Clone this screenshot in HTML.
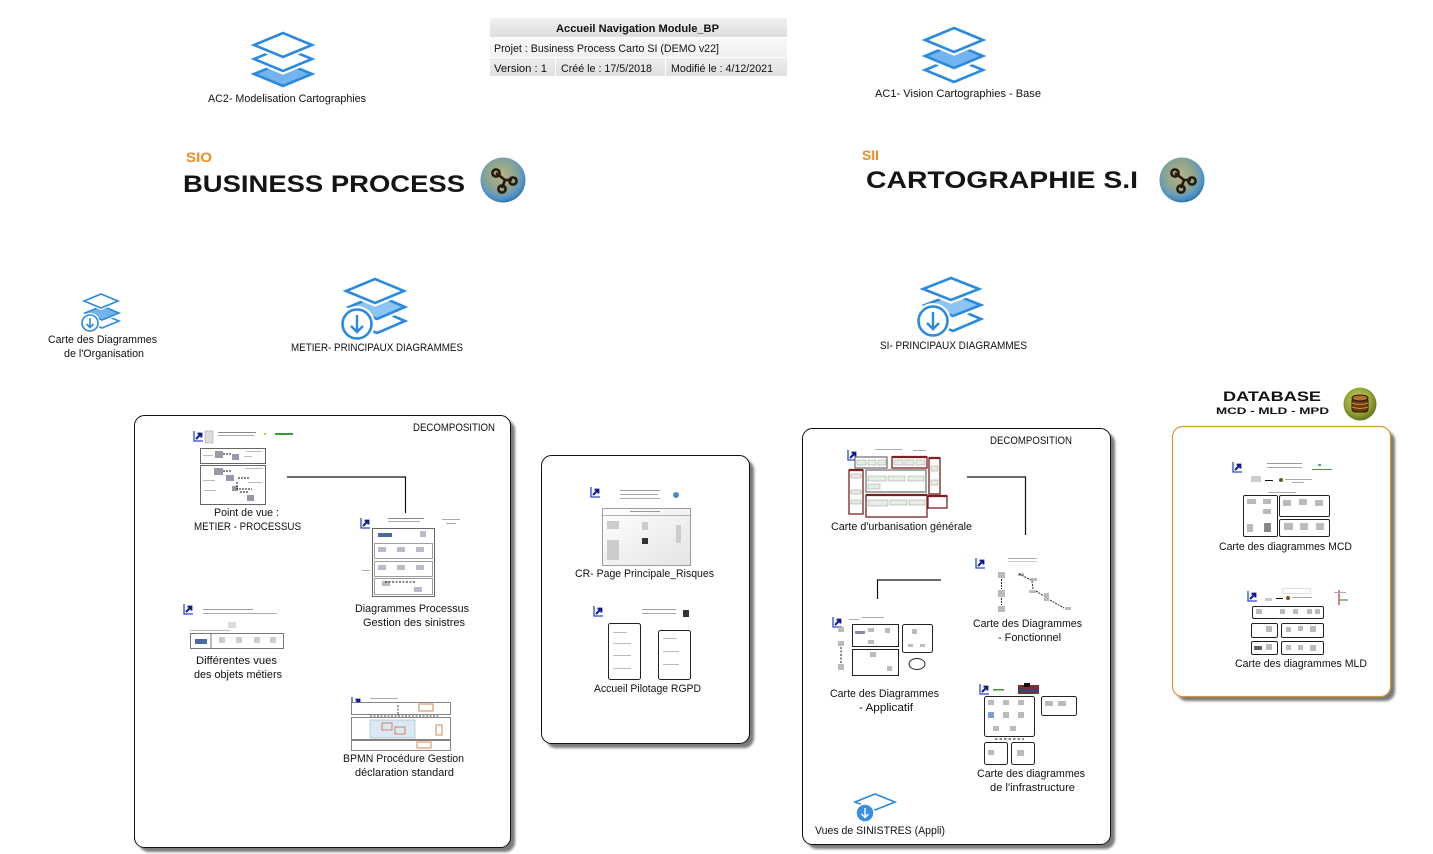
<!DOCTYPE html>
<html><head><meta charset="utf-8">
<style>
html,body{margin:0;padding:0;background:#fff;}
svg{display:block;}
text{font-family:"Liberation Sans",Arial,sans-serif;fill:#111;}
</style></head><body>
<svg width="1433" height="854" viewBox="0 0 1433 854" xmlns="http://www.w3.org/2000/svg">
<defs>
 <linearGradient id="hdr" x1="0" y1="0" x2="0" y2="1"><stop offset="0" stop-color="#f1f1f1"/><stop offset="1" stop-color="#dedede"/></linearGradient>
 <linearGradient id="hdr2" x1="0" y1="0" x2="0" y2="1"><stop offset="0" stop-color="#fafafa"/><stop offset="1" stop-color="#f0f0f0"/></linearGradient>
 <linearGradient id="hdr3" x1="0" y1="0" x2="0" y2="1"><stop offset="0" stop-color="#ececec"/><stop offset="1" stop-color="#e0e0e0"/></linearGradient>
 <radialGradient id="glob" cx="0.45" cy="0.4" r="0.62">
  <stop offset="0" stop-color="#b8b488"/><stop offset="0.55" stop-color="#88a490"/><stop offset="0.72" stop-color="#6a9cb8"/><stop offset="0.85" stop-color="#4a90c8"/><stop offset="1" stop-color="#2e6e9e"/>
 </radialGradient>
 <radialGradient id="dbg" cx="0.45" cy="0.4" r="0.62">
  <stop offset="0" stop-color="#c8cc70"/><stop offset="0.6" stop-color="#98a838"/><stop offset="1" stop-color="#5e7018"/>
 </radialGradient>
 <linearGradient id="thg" x1="0" y1="0" x2="1" y2="1"><stop offset="0" stop-color="#ffffff"/><stop offset="1" stop-color="#e4e4e4"/></linearGradient>
 <filter id="blur" x="-5%" y="-5%" width="110%" height="110%"><feGaussianBlur stdDeviation="1.4"/></filter>
 <symbol id="sc" viewBox="0 0 10 11"><path d="M1 0 V10 H10" stroke="#2a48d8" stroke-width="1.3" fill="none"/><path d="M3 8 L8 3 M4.5 2.6 H8.4 V6.5" stroke="#0c1c90" stroke-width="2" fill="none"/></symbol>
 <g id="glyph">
  <path d="M-7 -7 L2 0 L9 0 M2 0 L-1 8" stroke="#2a1a08" stroke-width="2.6" fill="none"/>
  <circle cx="-7" cy="-7" r="3.6" fill="none" stroke="#2a1a08" stroke-width="2.6"/>
  <circle cx="10" cy="1" r="3.6" fill="none" stroke="#2a1a08" stroke-width="2.6"/>
  <circle cx="-1" cy="9" r="3.6" fill="none" stroke="#2a1a08" stroke-width="2.6"/>
 </g>
</defs>

<!-- HEADER TABLE -->
<rect x="490" y="18" width="297" height="19" fill="url(#hdr)"/>
<rect x="490" y="38" width="297" height="19" fill="url(#hdr2)"/>
<rect x="490" y="58" width="65" height="18" fill="url(#hdr3)"/>
<rect x="556" y="58" width="109" height="18" fill="url(#hdr3)"/>
<rect x="666" y="58" width="121" height="18" fill="url(#hdr3)"/>
<text x="556" y="32" font-size="11" font-weight="bold" textLength="163" lengthAdjust="spacingAndGlyphs">Accueil Navigation Module_BP</text>
<text x="494" y="52" font-size="11" textLength="225" lengthAdjust="spacingAndGlyphs">Projet : Business Process Carto SI (DEMO v22]</text>
<text x="494" y="72" font-size="11" textLength="53" lengthAdjust="spacingAndGlyphs">Version : 1</text>
<text x="561" y="72" font-size="11" textLength="91" lengthAdjust="spacingAndGlyphs">Créé le : 17/5/2018</text>
<text x="671" y="72" font-size="11" textLength="102" lengthAdjust="spacingAndGlyphs">Modifié le : 4/12/2021</text>

<!-- AC2 ICON -->
<g stroke-linejoin="miter">
 <path d="M283 62 L312 74 L283 86 L254 74 Z" fill="#74b4ee" stroke="#2a8ae0" stroke-width="2.6"/>
 <path d="M283 47 L312 59 L283 71 L254 59 Z" fill="#fff" stroke="#fff" stroke-width="7"/>
 <path d="M283 47 L312 59 L283 71 L254 59 Z" fill="#fff" stroke="#2a8ae0" stroke-width="2.6"/>
 <path d="M283 33 L312 45 L283 57 L254 45 Z" fill="#fff" stroke="#fff" stroke-width="7"/>
 <path d="M283 33 L312 45 L283 57 L254 45 Z" fill="#fff" stroke="#2a8ae0" stroke-width="2.6"/>
</g>
<text x="208" y="102" font-size="11" textLength="158" lengthAdjust="spacingAndGlyphs">AC2- Modelisation Cartographies</text>

<!-- AC1 ICON -->
<g>
 <path d="M954 58 L983 70 L954 82 L925 70 Z" fill="#fff" stroke="#2a8ae0" stroke-width="2.6"/>
 <path d="M954 44 L983 56 L954 68 L925 56 Z" fill="#74b4ee" stroke="#fff" stroke-width="7"/>
 <path d="M954 44 L983 56 L954 68 L925 56 Z" fill="#74b4ee" stroke="#2a8ae0" stroke-width="2.6"/>
 <path d="M954 28 L983 40 L954 52 L925 40 Z" fill="#fff" stroke="#fff" stroke-width="7"/>
 <path d="M954 28 L983 40 L954 52 L925 40 Z" fill="#fff" stroke="#2a8ae0" stroke-width="2.6"/>
</g>
<text x="875" y="97" font-size="11" textLength="166" lengthAdjust="spacingAndGlyphs">AC1- Vision Cartographies  - Base</text>

<!-- TITLES -->
<text x="186" y="162" font-size="14" font-weight="bold" style="fill:#f08a24" textLength="26" lengthAdjust="spacingAndGlyphs">SIO</text>
<text x="183" y="192" font-size="24" font-weight="bold" textLength="282" lengthAdjust="spacingAndGlyphs" style="fill:#141414">BUSINESS PROCESS</text>
<circle cx="503" cy="180" r="22.5" fill="url(#glob)"/>
<use href="#glyph" x="503" y="180"/>

<text x="862" y="160" font-size="14" font-weight="bold" style="fill:#f08a24" textLength="17" lengthAdjust="spacingAndGlyphs">SII</text>
<text x="866" y="188" font-size="24" font-weight="bold" textLength="272" lengthAdjust="spacingAndGlyphs" style="fill:#141414">CARTOGRAPHIE S.I</text>
<circle cx="1182" cy="180" r="22.5" fill="url(#glob)"/>
<use href="#glyph" x="1182" y="180"/>

<!-- CARTE ORG ICON -->
<g>
 <path d="M102 314 L119 321 L102 328 L85 321 Z" fill="#fff" stroke="#2a8ae0" stroke-width="1.6"/>
 <path d="M102 306 L119 313 L102 320 L85 313 Z" fill="#74b4ee" stroke="#fff" stroke-width="4"/>
 <path d="M102 306 L119 313 L102 320 L85 313 Z" fill="#74b4ee" stroke="#2a8ae0" stroke-width="1.6"/>
 <path d="M101 294 L118 301 L101 308 L84 301 Z" fill="#fff" stroke="#fff" stroke-width="4"/>
 <path d="M101 294 L118 301 L101 308 L84 301 Z" fill="#fff" stroke="#2a8ae0" stroke-width="1.6"/>
 <circle cx="90" cy="323" r="8" fill="#fff" stroke="#fff" stroke-width="4"/>
 <circle cx="90" cy="323" r="8" fill="#fff" stroke="#2a8ae0" stroke-width="1.6"/>
 <path d="M90 318 V327 M86.5 324 L90 327.5 L93.5 324" fill="none" stroke="#2a8ae0" stroke-width="1.6"/>
</g>
<text x="48" y="343" font-size="11" textLength="109" lengthAdjust="spacingAndGlyphs">Carte des Diagrammes</text>
<text x="64" y="357" font-size="11" textLength="80" lengthAdjust="spacingAndGlyphs">de l'Organisation</text>

<!-- METIER ICON -->
<g>
 <path d="M377 309 L405 321 L377 333 L349 321 Z" fill="#fff" stroke="#2a8ae0" stroke-width="2.6"/>
 <path d="M377 295 L405 307 L377 319 L349 307 Z" fill="#8cc4f2" stroke="#fff" stroke-width="7"/>
 <path d="M377 295 L405 307 L377 319 L349 307 Z" fill="#8cc4f2" stroke="#2a8ae0" stroke-width="2.6"/>
 <path d="M375 279 L404 291 L375 303 L346 291 Z" fill="#fff" stroke="#fff" stroke-width="7"/>
 <path d="M375 279 L404 291 L375 303 L346 291 Z" fill="#fff" stroke="#2a8ae0" stroke-width="2.6"/>
 <circle cx="357" cy="324" r="14.5" fill="#fff" stroke="#fff" stroke-width="7"/>
 <circle cx="357" cy="324" r="14.5" fill="#fff" stroke="#2a8ae0" stroke-width="2.6"/>
 <path d="M357 315 V332 M351 326 L357 332 L363 326" fill="none" stroke="#2a8ae0" stroke-width="2.4"/>
</g>
<text x="291" y="351" font-size="11" textLength="172" lengthAdjust="spacingAndGlyphs">METIER- PRINCIPAUX DIAGRAMMES</text>

<!-- SI ICON -->
<g>
 <path d="M953 307 L981 319 L953 331 L925 319 Z" fill="#fff" stroke="#2a8ae0" stroke-width="2.6"/>
 <path d="M953 294 L981 305 L953 316 L925 305 Z" fill="#8cc4f2" stroke="#fff" stroke-width="7"/>
 <path d="M953 294 L981 305 L953 316 L925 305 Z" fill="#8cc4f2" stroke="#2a8ae0" stroke-width="2.6"/>
 <path d="M951 278 L979 289 L951 300 L923 289 Z" fill="#fff" stroke="#fff" stroke-width="7"/>
 <path d="M951 278 L979 289 L951 300 L923 289 Z" fill="#fff" stroke="#2a8ae0" stroke-width="2.6"/>
 <circle cx="933" cy="321" r="14.5" fill="#fff" stroke="#fff" stroke-width="7"/>
 <circle cx="933" cy="321" r="14.5" fill="#fff" stroke="#2a8ae0" stroke-width="2.6"/>
 <path d="M933 312 V329 M927 323 L933 329 L939 323" fill="none" stroke="#2a8ae0" stroke-width="2.4"/>
</g>
<text x="880" y="349" font-size="11" textLength="147" lengthAdjust="spacingAndGlyphs">SI- PRINCIPAUX DIAGRAMMES</text>

<!-- DATABASE TITLE -->
<text x="1223" y="401" font-size="14" font-weight="bold" textLength="98" lengthAdjust="spacingAndGlyphs">DATABASE</text>
<text x="1216" y="414" font-size="9" font-weight="bold" textLength="113" lengthAdjust="spacingAndGlyphs">MCD - MLD - MPD</text>
<circle cx="1360" cy="404" r="16.5" fill="url(#dbg)"/>
<g fill="#6a3a10" stroke="#2a1206" stroke-width="1">
 <rect x="1352" y="398" width="16" height="14" rx="3"/>
 <ellipse cx="1360" cy="398" rx="8" ry="3" fill="#b07030"/>
 <path d="M1352 403 Q1360 406 1368 403 M1352 407 Q1360 410 1368 407" fill="none" stroke="#d09040"/>
</g>

<!-- BOX SHADOWS -->
<g fill="#7a7a7a" filter="url(#blur)">
 <rect x="139" y="420" width="376" height="432" rx="10"/>
 <rect x="546" y="460" width="208" height="288" rx="10"/>
 <rect x="807" y="433" width="308" height="416" rx="10"/>
 <rect x="1177" y="431" width="218" height="270" rx="10"/>
</g>
<rect x="134.5" y="415.5" width="376" height="432" rx="10" fill="#fff" stroke="#111" stroke-width="1"/>
<rect x="541.5" y="455.5" width="208" height="288" rx="10" fill="#fff" stroke="#111" stroke-width="1"/>
<rect x="802.5" y="428.5" width="308" height="416" rx="10" fill="#fff" stroke="#111" stroke-width="1"/>
<rect x="1172.5" y="426.5" width="218" height="270" rx="10" fill="#fff" stroke="#d8963c" stroke-width="1.2"/>

<text x="413" y="431" font-size="11" textLength="82" lengthAdjust="spacingAndGlyphs">DECOMPOSITION</text>
<text x="990" y="444" font-size="11" textLength="82" lengthAdjust="spacingAndGlyphs">DECOMPOSITION</text>

<!-- CONNECTOR LINES -->
<g stroke="#111" stroke-width="1.2" fill="none">
 <path d="M287 477 H405.5 V513"/>
 <path d="M967 477 H1025.5 V535"/>
 <path d="M941 580 H877.5 V599"/>
</g>

<!-- LEFT BOX THUMBNAILS -->
<use href="#sc" x="193" y="431" width="10" height="11"/>
<rect x="205" y="431" width="8" height="12" fill="#ddd" stroke="#999" stroke-width="0.5"/>
<rect x="218" y="432" width="38" height="1" fill="#888"/><rect x="218" y="435" width="36" height="1" fill="#aaa"/>
<rect x="264" y="433" width="2" height="2" fill="#cc0"/>
<rect x="275" y="433" width="18" height="2" fill="#3a9a3a"/>
<rect x="200.5" y="448.5" width="65" height="15" fill="#fff" stroke="#666" stroke-width="1"/>
<rect x="200.5" y="465.5" width="65" height="39" fill="#fff" stroke="#666" stroke-width="1"/>
<g fill="#99a">
 <rect x="215" y="451" width="8" height="7"/><rect x="232" y="454" width="7" height="6"/>
 <rect x="214" y="468" width="9" height="7"/><rect x="226" y="475" width="8" height="6"/><rect x="232" y="486" width="6" height="5"/><rect x="247" y="495" width="7" height="6"/>
</g>
<g stroke="#111" stroke-width="1" stroke-dasharray="2,1" fill="none">
 <path d="M223 454 H232"/><path d="M223 471 H232"/><path d="M238 478 H250 M237 482 V489 H252"/><path d="M240 492 H248"/>
</g>
<g fill="#bbb">
 <rect x="203" y="455" width="10" height="1"/><rect x="246" y="451" width="16" height="1"/><rect x="244" y="456" width="8" height="1"/>
 <rect x="203" y="480" width="12" height="1"/><rect x="204" y="490" width="12" height="1"/><rect x="245" y="468" width="18" height="1"/><rect x="248" y="482" width="14" height="1"/>
</g>
<text x="214" y="516" font-size="11" textLength="65" lengthAdjust="spacingAndGlyphs">Point de vue :</text>
<text x="194" y="530" font-size="11" textLength="107" lengthAdjust="spacingAndGlyphs">METIER - PROCESSUS</text>

<use href="#sc" x="360" y="518" width="10" height="11"/>
<rect x="388" y="518" width="36" height="1" fill="#888"/><rect x="388" y="521" width="32" height="1" fill="#aaa"/>
<rect x="442" y="519" width="18" height="1" fill="#aaa"/><rect x="446" y="523" width="10" height="1" fill="#aaa"/>
<rect x="372.5" y="528.5" width="62" height="68" fill="#fff" stroke="#666" stroke-width="1"/>
<rect x="378" y="533" width="14" height="4" fill="#4a6aa0"/>
<rect x="374.5" y="543.5" width="58" height="15" fill="#fff" stroke="#888" stroke-width="0.8"/>
<rect x="374.5" y="561.5" width="58" height="15" fill="#fff" stroke="#888" stroke-width="0.8"/>
<rect x="374.5" y="578.5" width="58" height="16" fill="#fff" stroke="#888" stroke-width="0.8"/>
<g fill="#bbc">
 <rect x="378" y="547" width="8" height="5"/><rect x="397" y="547" width="8" height="5"/><rect x="416" y="547" width="8" height="5"/>
 <rect x="378" y="565" width="8" height="5"/><rect x="397" y="565" width="8" height="5"/><rect x="416" y="565" width="8" height="5"/>
 <rect x="382" y="581" width="8" height="5"/><rect x="414" y="587" width="8" height="5"/><rect x="420" y="531" width="6" height="6"/>
</g>
<path d="M385 582 H416" stroke="#111" stroke-dasharray="2,1.5" stroke-width="1"/>
<rect x="362" y="570" width="8" height="1" fill="#aaa"/>
<text x="355" y="612" font-size="11" textLength="114" lengthAdjust="spacingAndGlyphs">Diagrammes Processus</text>
<text x="363" y="626" font-size="11" textLength="102" lengthAdjust="spacingAndGlyphs">Gestion des sinistres</text>

<use href="#sc" x="183" y="604" width="10" height="11"/>
<rect x="203" y="609" width="50" height="1" fill="#999"/><rect x="203" y="613" width="74" height="1" fill="#aaa"/>
<rect x="228" y="622" width="8" height="6" fill="#ddd"/>
<rect x="190" y="630" width="40" height="1" fill="#bbb"/>
<rect x="190.5" y="633.5" width="93" height="15" fill="#fff" stroke="#777" stroke-width="1"/>
<path d="M211 634 V648" stroke="#777"/>
<rect x="195" y="639" width="12" height="5" fill="#4a6aa0"/>
<g fill="#ccc"><rect x="219" y="637" width="6" height="6"/><rect x="236" y="637" width="6" height="6"/><rect x="254" y="637" width="6" height="6"/><rect x="270" y="637" width="6" height="6"/></g>
<text x="196" y="664" font-size="11" textLength="81" lengthAdjust="spacingAndGlyphs">Différentes vues</text>
<text x="194" y="678" font-size="11" textLength="88" lengthAdjust="spacingAndGlyphs">des objets métiers</text>

<use href="#sc" x="351" y="697" width="10" height="11"/>
<rect x="370" y="698" width="28" height="1" fill="#aaa"/>
<rect x="351.5" y="702.5" width="99" height="12" fill="#fff" stroke="#666" stroke-width="0.8"/>
<rect x="351.5" y="717.5" width="99" height="22" fill="#fff" stroke="#666" stroke-width="0.8"/>
<rect x="351.5" y="740.5" width="99" height="10" fill="#fff" stroke="#666" stroke-width="0.8"/>
<rect x="370" y="720" width="45" height="18" fill="#dbe8f6" stroke="#8aa" stroke-width="0.5"/>
<g fill="none" stroke="#d07840" stroke-width="0.9">
 <rect x="419" y="704" width="14" height="7"/><rect x="382" y="723" width="10" height="7"/><rect x="395" y="727" width="10" height="7"/><rect x="436" y="725" width="6" height="10"/><rect x="417" y="742" width="14" height="6"/>
</g>
<path d="M370 716 H440 M398 705 V716" stroke="#111" stroke-dasharray="2,1.5" stroke-width="0.8"/>
<text x="343" y="762" font-size="11" textLength="121" lengthAdjust="spacingAndGlyphs">BPMN Procédure Gestion</text>
<text x="355" y="776" font-size="11" textLength="99" lengthAdjust="spacingAndGlyphs">déclaration standard</text>

<!-- MIDDLE BOX -->
<use href="#sc" x="590" y="487" width="10" height="11"/>
<rect x="620" y="490" width="40" height="1" fill="#999"/><rect x="620" y="494" width="38" height="1" fill="#aaa"/><rect x="620" y="498" width="40" height="1" fill="#aaa"/>
<circle cx="676" cy="495" r="3" fill="#4a8ac8"/>
<rect x="602.5" y="508.5" width="88" height="57" fill="url(#thg)" stroke="#888" stroke-width="0.8"/>
<path d="M603 515.5 H690" stroke="#999" stroke-width="0.8"/>
<rect x="630" y="511" width="30" height="1" fill="#999"/>
<g fill="#ccc"><rect x="607" y="521" width="12" height="8"/><rect x="642" y="522" width="6" height="8"/><rect x="676" y="525" width="5" height="18"/><rect x="607" y="540" width="12" height="20"/><rect x="642" y="538" width="6" height="6" fill="#333"/></g>
<text x="575" y="577" font-size="11" textLength="139" lengthAdjust="spacingAndGlyphs">CR- Page Principale_Risques</text>

<use href="#sc" x="593" y="606" width="10" height="11"/>
<rect x="642" y="609" width="34" height="1" fill="#999"/><rect x="642" y="613" width="34" height="1" fill="#aaa"/>
<rect x="683" y="610" width="6" height="7" fill="#333"/>
<rect x="608.5" y="623.5" width="32" height="56" rx="2" fill="#fff" stroke="#222" stroke-width="1"/>
<rect x="658.5" y="630.5" width="32" height="49" rx="2" fill="#fff" stroke="#222" stroke-width="1"/>
<g fill="#bbb"><rect x="613" y="632" width="14" height="1"/><rect x="613" y="643" width="18" height="1"/><rect x="613" y="655" width="18" height="1"/><rect x="613" y="668" width="18" height="1"/><rect x="663" y="638" width="14" height="1"/><rect x="663" y="651" width="16" height="1"/><rect x="663" y="664" width="16" height="1"/></g>
<text x="594" y="692" font-size="11" textLength="107" lengthAdjust="spacingAndGlyphs">Accueil Pilotage RGPD</text>

<!-- RIGHT BOX: Urbanisation -->
<use href="#sc" x="847" y="450" width="10" height="11"/>
<rect x="875" y="449" width="27" height="1" fill="#aaa"/><rect x="913" y="450" width="13" height="1" fill="#aaa"/>
<g fill="#fff" stroke-width="1.3">
 <rect x="855" y="457" width="32" height="11" stroke="#777"/>
 <rect x="892" y="457" width="35" height="11" stroke="#7a2020"/>
 <rect x="929" y="458" width="11" height="36" stroke="#7a2020"/>
 <rect x="849" y="470" width="14" height="44" stroke="#7a2020"/>
 <rect x="866" y="470" width="60" height="22" stroke="#777"/>
 <rect x="866" y="495" width="61" height="22" stroke="#7a2020"/>
 <rect x="928" y="496" width="19" height="12" stroke="#7a2020"/>
</g>
<g fill="#e4efe4" stroke="#999" stroke-width="0.5">
 <rect x="857" y="460" width="9" height="5"/><rect x="868" y="460" width="8" height="5"/><rect x="878" y="460" width="8" height="5"/>
 <rect x="894" y="460" width="9" height="5"/><rect x="905" y="460" width="9" height="5"/><rect x="916" y="460" width="9" height="5"/>
 <rect x="868" y="476" width="18" height="5"/><rect x="888" y="476" width="17" height="5"/><rect x="908" y="476" width="16" height="5"/>
 <rect x="868" y="484" width="12" height="5"/><rect x="868" y="500" width="20" height="6"/><rect x="890" y="500" width="17" height="5"/><rect x="909" y="500" width="16" height="5"/>
 <rect x="851" y="474" width="10" height="4"/><rect x="851" y="490" width="10" height="4"/><rect x="851" y="500" width="10" height="4"/><rect x="931" y="466" width="7" height="5"/><rect x="931" y="480" width="7" height="5"/>
</g>
<path d="M866 495 H927 M928 496 H947 M892 457 H927 M929 458 H940 M849 470 H863" stroke="#7a2020" stroke-width="2.2"/>
<text x="831" y="530" font-size="11" textLength="141" lengthAdjust="spacingAndGlyphs">Carte d'urbanisation générale</text>

<!-- Fonctionnel -->
<use href="#sc" x="975" y="558" width="10" height="11"/>
<rect x="1008" y="558" width="29" height="1" fill="#aaa"/><rect x="1008" y="561" width="29" height="1" fill="#ccc"/>
<g fill="#bbb"><rect x="998" y="572" width="7" height="6"/><rect x="998" y="590" width="7" height="7"/><rect x="998" y="606" width="7" height="6"/><rect x="1018" y="573" width="6" height="3"/><rect x="1031" y="578" width="6" height="3"/><rect x="1029" y="590" width="7" height="3"/><rect x="1044" y="593" width="5" height="8"/><rect x="1065" y="607" width="6" height="3"/></g>
<path d="M1001.5 579 V589 M1001.5 598 V605 M1019 574 L1031 580 M1032 581 L1033 589 M1036 591 L1044 596 M1050 600 L1064 608" stroke="#111" stroke-width="0.9" stroke-dasharray="2,1"/>
<text x="973" y="627" font-size="11" textLength="109" lengthAdjust="spacingAndGlyphs">Carte des Diagrammes</text>
<text x="998" y="641" font-size="11" textLength="63" lengthAdjust="spacingAndGlyphs">- Fonctionnel</text>

<!-- Applicatif -->
<use href="#sc" x="832" y="617" width="10" height="11"/>
<rect x="849" y="619" width="10" height="1" fill="#aaa"/><rect x="862" y="617" width="22" height="1" fill="#aaa"/>
<rect x="852.5" y="624.5" width="46" height="22" fill="#fff" stroke="#222" stroke-width="1"/>
<rect x="852.5" y="649.5" width="46" height="26" fill="#fff" stroke="#222" stroke-width="1"/>
<rect x="902.5" y="624.5" width="30" height="28" rx="2" fill="#fff" stroke="#222" stroke-width="1"/>
<ellipse cx="917" cy="664" rx="8" ry="5.5" fill="#fff" stroke="#222" stroke-width="1"/>
<g fill="#bbb"><rect x="838" y="627" width="6" height="5"/><rect x="838" y="641" width="6" height="5"/><rect x="838" y="664" width="6" height="6"/><rect x="855" y="631" width="10" height="3" fill="#88a"/><rect x="868" y="628" width="6" height="4"/><rect x="885" y="628" width="5" height="5"/><rect x="868" y="640" width="6" height="4"/><rect x="870" y="652" width="6" height="5"/><rect x="887" y="666" width="5" height="5"/><rect x="912" y="629" width="5" height="5"/><rect x="908" y="644" width="5" height="3"/><rect x="920" y="644" width="5" height="3"/></g>
<path d="M841 647 V663" stroke="#111" stroke-dasharray="2,1.5"/>
<text x="830" y="697" font-size="11" textLength="109" lengthAdjust="spacingAndGlyphs">Carte des Diagrammes</text>
<text x="859" y="711" font-size="11" textLength="54" lengthAdjust="spacingAndGlyphs">- Applicatif</text>

<!-- Infrastructure -->
<use href="#sc" x="979" y="684" width="10" height="11"/>
<rect x="993" y="689" width="11" height="1.5" fill="#3a9a3a"/>
<rect x="1018" y="685" width="21" height="9" fill="#7a3030"/>
<rect x="1018" y="689" width="21" height="3" fill="#2a4a7a"/>
<rect x="1024" y="683" width="6" height="4" fill="#111"/>
<rect x="984.5" y="696.5" width="50" height="40" rx="2" fill="#fff" stroke="#222" stroke-width="1"/>
<rect x="1041.5" y="696.5" width="35" height="19" rx="2" fill="#fff" stroke="#222" stroke-width="1"/>
<rect x="984.5" y="742.5" width="23" height="22" rx="2" fill="#fff" stroke="#222" stroke-width="1"/>
<rect x="1011.5" y="742.5" width="23" height="22" rx="2" fill="#fff" stroke="#222" stroke-width="1"/>
<g fill="#bbb"><rect x="988" y="700" width="6" height="5"/><rect x="1003" y="700" width="6" height="5"/><rect x="1018" y="700" width="6" height="5"/><rect x="988" y="712" width="6" height="6" fill="#7aa0d0"/><rect x="1003" y="712" width="6" height="6"/><rect x="1018" y="712" width="6" height="6"/><rect x="993" y="726" width="6" height="5"/><rect x="1010" y="726" width="6" height="5"/><rect x="1045" y="701" width="8" height="5"/><rect x="1058" y="701" width="8" height="5"/><rect x="988" y="750" width="6" height="5"/><rect x="1017" y="750" width="7" height="6"/></g>
<path d="M995 739 H1024" stroke="#111" stroke-dasharray="2.5,2" stroke-width="1"/>
<text x="977" y="777" font-size="11" textLength="108" lengthAdjust="spacingAndGlyphs">Carte des diagrammes</text>
<text x="990" y="791" font-size="11" textLength="85" lengthAdjust="spacingAndGlyphs">de l'infrastructure</text>

<!-- Vues de SINISTRES -->
<path d="M875 794 L895 802 L875 810 L855 802 Z" fill="#fff" stroke="#2a8ae0" stroke-width="1.6"/>
<circle cx="865" cy="813" r="9" fill="#3a90e0" stroke="#fff" stroke-width="1.5"/>
<path d="M865 808 V817 M861.5 814 L865 817.5 L868.5 814" stroke="#fff" stroke-width="1.4" fill="none"/>
<text x="815" y="834" font-size="11" textLength="130" lengthAdjust="spacingAndGlyphs">Vues de SINISTRES (Appli)</text>

<!-- DATABASE BOX: MCD -->
<use href="#sc" x="1232" y="462" width="10" height="11"/>
<rect x="1267" y="463" width="35" height="1" fill="#999"/><rect x="1267" y="467" width="35" height="1" fill="#aaa"/>
<rect x="1318" y="464" width="3" height="2" fill="#888"/><rect x="1312" y="469" width="20" height="1" fill="#3a9a3a"/>
<rect x="1251" y="476" width="10" height="6" fill="#ccc"/>
<path d="M1265 480.5 H1273" stroke="#111"/>
<circle cx="1281" cy="480" r="2" fill="#6a5a20"/>
<rect x="1285" y="479" width="27" height="1" fill="#aaa"/><rect x="1292" y="482" width="12" height="1" fill="#aaa"/>
<rect x="1268" y="492" width="28" height="1" fill="#aaa"/>
<rect x="1243.5" y="495.5" width="34" height="41" rx="1.5" fill="#fff" stroke="#222" stroke-width="1"/>
<rect x="1279.5" y="495.5" width="50" height="21" rx="1.5" fill="#fff" stroke="#222" stroke-width="1"/>
<rect x="1279.5" y="519.5" width="50" height="17" rx="1.5" fill="#fff" stroke="#222" stroke-width="1"/>
<g fill="#bbb"><rect x="1247" y="499" width="9" height="5"/><rect x="1263" y="499" width="8" height="5"/><rect x="1263" y="509" width="8" height="5"/><rect x="1247" y="524" width="6" height="8"/><rect x="1264" y="523" width="7" height="9" fill="#888"/><rect x="1283" y="500" width="8" height="6"/><rect x="1299" y="499" width="8" height="6"/><rect x="1315" y="500" width="8" height="6"/><rect x="1284" y="523" width="9" height="7"/><rect x="1300" y="523" width="8" height="7"/><rect x="1316" y="523" width="8" height="7"/></g>
<text x="1219" y="550" font-size="11" textLength="133" lengthAdjust="spacingAndGlyphs">Carte des diagrammes MCD</text>

<!-- MLD -->
<use href="#sc" x="1247" y="591" width="10" height="11"/>
<rect x="1282.5" y="588.5" width="28" height="5" fill="#fff" stroke="#ccc" stroke-width="0.6"/>
<rect x="1265" y="598" width="7" height="3" fill="#ccc"/>
<path d="M1276 598.5 H1283" stroke="#111"/>
<circle cx="1288" cy="598" r="2" fill="#6a5a20"/>
<rect x="1292" y="597" width="20" height="1" fill="#aaa"/>
<path d="M1339 590 V605" stroke="#c03030" stroke-width="1.2"/><path d="M1339 600 H1348" stroke="#3a9a3a" stroke-width="1.2"/><rect x="1334" y="592" width="12" height="1" fill="#aaa"/>
<rect x="1252.5" y="606.5" width="71" height="12" rx="1.5" fill="#fff" stroke="#222" stroke-width="1"/>
<rect x="1251.5" y="623.5" width="26" height="14" rx="1.5" fill="#fff" stroke="#222" stroke-width="1"/>
<rect x="1281.5" y="623.5" width="42" height="14" rx="1.5" fill="#fff" stroke="#222" stroke-width="1"/>
<rect x="1251.5" y="641.5" width="26" height="13" rx="1.5" fill="#fff" stroke="#222" stroke-width="1"/>
<rect x="1281.5" y="641.5" width="42" height="13" rx="1.5" fill="#fff" stroke="#222" stroke-width="1"/>
<g fill="#bbb"><rect x="1256" y="609" width="6" height="5"/><rect x="1280" y="609" width="5" height="5"/><rect x="1293" y="609" width="5" height="5"/><rect x="1307" y="609" width="5" height="5"/><rect x="1315" y="609" width="5" height="5"/><rect x="1266" y="626" width="6" height="6"/><rect x="1286" y="627" width="5" height="5"/><rect x="1298" y="626" width="5" height="5"/><rect x="1310" y="626" width="6" height="6"/><rect x="1254" y="646" width="8" height="4" fill="#666"/><rect x="1266" y="644" width="6" height="6"/><rect x="1286" y="645" width="5" height="5"/><rect x="1298" y="645" width="5" height="5"/><rect x="1310" y="645" width="6" height="6"/></g>
<text x="1235" y="667" font-size="11" textLength="132" lengthAdjust="spacingAndGlyphs">Carte des diagrammes MLD</text>
</svg>
</body></html>
